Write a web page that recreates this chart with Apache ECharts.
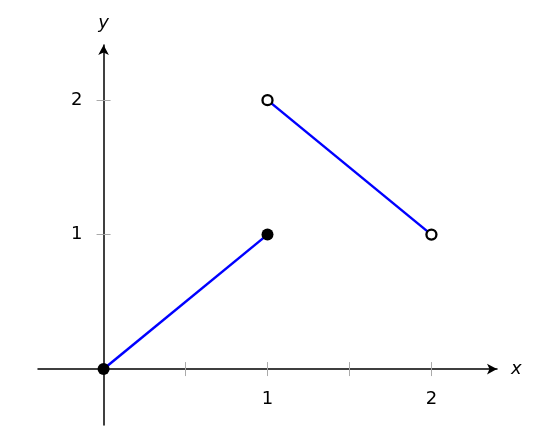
<!DOCTYPE html>
<html>
<head>
<meta charset="utf-8">
<script src="https://cdn.jsdelivr.net/npm/echarts@6/dist/echarts.min.js"></script>
<style>html,body{margin:0;padding:0;background:#fff}#c{width:550px;height:439px}</style>
</head>
<body>
<div id="c"></div>
<script>
// Data
const closedSegment = [[0, 0], [1, 1]];   // filled endpoints
const openSegment = [[1, 2], [2, 1]];     // open endpoints
const xTickValues = [0.5, 1, 1.5, 2];
const xLabelValues = [1, 2];
const yTickValues = [1, 2];
const yLabelValues = [1, 2];

const FONT = 'DejaVu Sans';
const W = 550, H = 439;
const G = {left: 38, right: 53, top: 45, bottom: 14};
const X_MIN = -0.4, X_MAX = 2.4, Y_MIN = -0.416, Y_MAX = 2.41;

// offsets that bring the secondary (label) axes onto the zero lines
const gridW = W - G.left - G.right, gridH = H - G.top - G.bottom;
const xZeroOffset = -((0 - X_MIN) / (X_MAX - X_MIN)) * gridW;   // y-axis moved right
const yZeroOffset = -((0 - Y_MIN) / (Y_MAX - Y_MIN)) * gridH;   // x-axis moved up

const chart = echarts.init(document.getElementById('c'), null, {renderer: 'canvas'});

const tickStyle = {color: '#aaa', width: 1};
const nameStyle = {fontFamily: FONT, fontStyle: 'italic', fontSize: 18, color: '#000'};
const labelStyle = {fontFamily: FONT, fontSize: 18, color: '#000'};
const hiddenLine = {color: 'rgba(0,0,0,0)', width: 0};

chart.setOption({
  animation: false,
  backgroundColor: '#fff',
  grid: Object.assign({containLabel: false, outerBoundsMode: 'none'}, G),
  xAxis: [
    {
      type: 'value', min: X_MIN, max: X_MAX, position: 'bottom',
      name: 'x', nameLocation: 'end', nameGap: 14, nameTextStyle: nameStyle,
      axisLine: {show: true, onZero: true, symbol: ['none', 'arrow'], symbolSize: [8, 10],
        lineStyle: {color: '#000', width: 1.5}},
      axisTick: {show: true, inside: false, length: 7, lineStyle: tickStyle, customValues: xTickValues},
      axisLabel: {show: false},
      splitLine: {show: false}
    },
    {
      type: 'value', min: X_MIN, max: X_MAX, position: 'bottom', offset: yZeroOffset,
      axisLine: {show: true, onZero: false, lineStyle: hiddenLine},
      axisTick: {show: true, inside: true, length: 7, lineStyle: tickStyle, customValues: xTickValues},
      axisLabel: Object.assign({show: true, margin: 21, customValues: xLabelValues}, labelStyle),
      splitLine: {show: false}
    }
  ],
  yAxis: [
    {
      type: 'value', min: Y_MIN, max: Y_MAX, position: 'left',
      name: 'y', nameLocation: 'end', nameGap: 13, nameTextStyle: nameStyle,
      axisLine: {show: true, onZero: true, symbol: ['none', 'arrow'], symbolSize: [8, 10],
        lineStyle: {color: '#000', width: 1.5}},
      axisTick: {show: true, inside: false, length: 7, lineStyle: tickStyle, customValues: yTickValues},
      axisLabel: {show: false},
      splitLine: {show: false}
    },
    {
      type: 'value', min: Y_MIN, max: Y_MAX, position: 'left', offset: xZeroOffset,
      axisLine: {show: true, onZero: false, lineStyle: hiddenLine},
      axisTick: {show: true, inside: true, length: 7, lineStyle: tickStyle, customValues: yTickValues},
      axisLabel: Object.assign({show: true, margin: 21, customValues: yLabelValues}, labelStyle),
      splitLine: {show: false}
    }
  ],
  series: [
    {
      type: 'line', xAxisIndex: 0, yAxisIndex: 0, data: closedSegment,
      symbol: 'circle', symbolSize: 12, showAllSymbol: true,
      lineStyle: {color: '#0000ff', width: 2.5},
      itemStyle: {color: '#000', borderWidth: 0},
      z: 5
    },
    {
      type: 'line', xAxisIndex: 0, yAxisIndex: 0, data: openSegment,
      symbol: 'circle', symbolSize: 10, showAllSymbol: true,
      lineStyle: {color: '#0000ff', width: 2.5},
      itemStyle: {color: '#fff', borderColor: '#000', borderWidth: 2.3},
      z: 5
    }
  ]
});
</script>
</body>
</html>
